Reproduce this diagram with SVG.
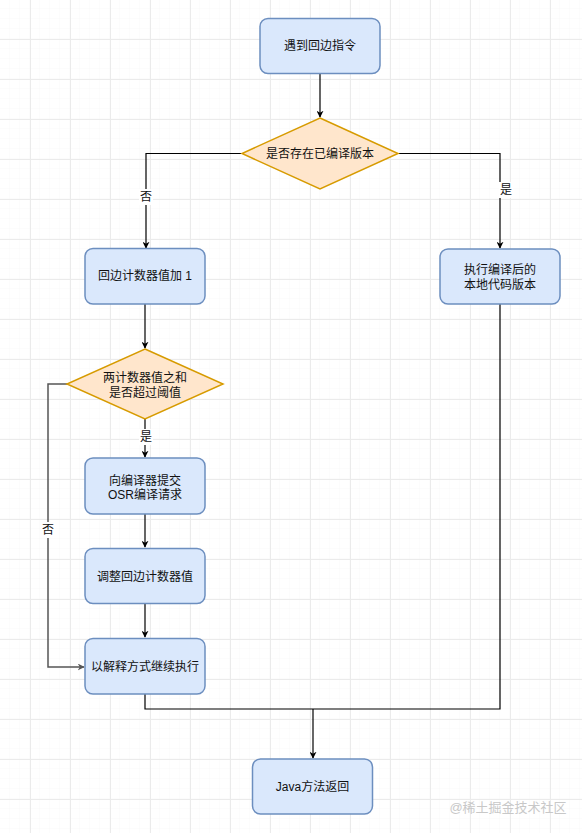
<svg xmlns="http://www.w3.org/2000/svg" width="582" height="833" viewBox="0 0 582 833">
<defs>
<pattern id="minor" x="0" y="9" width="10" height="10" patternUnits="userSpaceOnUse">
<path d="M10 0V10M0 10H10" fill="none" stroke="#f8f8f8" stroke-width="1"/>
</pattern>
<pattern id="major" x="30" y="39" width="40" height="40" patternUnits="userSpaceOnUse">
<path d="M0.5 0V40M0 0.5H40" fill="none" stroke="#ebebeb" stroke-width="1"/>
</pattern>
<marker id="arr" viewBox="0 0 10 10" refX="9" refY="5" markerWidth="7" markerHeight="7" markerUnits="userSpaceOnUse" orient="auto">
<path d="M0 0L10 5L0 10L3 5Z" fill="#000"/>
</marker>
<marker id="arrg" viewBox="0 0 10 10" refX="9" refY="5" markerWidth="7" markerHeight="7" markerUnits="userSpaceOnUse" orient="auto">
<path d="M0 0L10 5L0 10L3 5Z" fill="#555"/>
</marker>
</defs>
<style>
.box{fill:#dae8fc;stroke:#6c8ebf;stroke-width:1.5}
.dia{fill:#ffe6cc;stroke:#d79b00;stroke-width:1.5}
.t{font-family:"Liberation Sans","Noto Sans CJK SC",sans-serif;font-size:12px;fill:#111;text-anchor:middle;dominant-baseline:central}
.e{fill:none;stroke:#000;stroke-width:1.2}
.lb{fill:#fff}
</style>
<rect width="582" height="833" fill="#fff"/>
<rect width="582" height="833" fill="url(#minor)"/>
<rect width="582" height="833" fill="url(#major)"/>
<g id="connectors">
<path class="e" d="M320 73V117" marker-end="url(#arr)"/>
<path class="e" d="M242 153.5H146V248" marker-end="url(#arr)"/>
<path class="e" d="M398 153.5H500V248" marker-end="url(#arr)"/>
<path class="e" d="M145 304V348" marker-end="url(#arr)"/>
<path class="e" d="M145 419V457" marker-end="url(#arr)"/>
<path class="e" d="M145 514V547" marker-end="url(#arr)"/>
<path class="e" d="M145 603V637" marker-end="url(#arr)"/>
<path fill="none" stroke="#555" stroke-width="1.5" d="M67 384H48V667H84" marker-end="url(#arrg)"/>
<path class="e" d="M145 694V709H500V304"/>
<path class="e" d="M313 709V758" marker-end="url(#arr)"/>
<rect class="lb" x="139" y="189" width="14" height="16"/>
<text class="t" x="146" y="197">否</text>
<rect class="lb" x="499" y="182" width="14" height="16"/>
<text class="t" x="506" y="190">是</text>
<rect class="lb" x="139" y="429" width="14" height="16"/>
<text class="t" x="146" y="437">是</text>
<rect class="lb" x="41" y="522" width="14" height="16"/>
<text class="t" x="48" y="530">否</text>
</g>
<g id="n1">
<rect class="box" x="260" y="18.5" width="120" height="55" rx="8"/>
<text class="t" x="320" y="46">遇到回边指令</text>
</g>
<g id="d1">
<polygon class="dia" points="320,118 398,153.5 320,189 242,153.5"/>
<text class="t" x="320" y="154">是否存在已编译版本</text>
</g>
<g id="n2">
<rect class="box" x="85" y="248.5" width="120" height="55.5" rx="8"/>
<text class="t" x="145" y="276">回边计数器值加 1</text>
</g>
<g id="n3">
<rect class="box" x="440" y="249" width="120" height="55" rx="8"/>
<text class="t" x="500" y="270">执行编译后的</text>
<text class="t" x="500" y="285">本地代码版本</text>
</g>
<g id="d2">
<polygon class="dia" points="145,349 223,384 145,419 67,384"/>
<text class="t" x="145" y="377.5">两计数器值之和</text>
<text class="t" x="145" y="392.5">是否超过阈值</text>
</g>
<g id="n4">
<rect class="box" x="85" y="458" width="120" height="56" rx="8"/>
<text class="t" x="145" y="480.5">向编译器提交</text>
<text class="t" x="145" y="495">OSR编译请求</text>
</g>
<g id="n5">
<rect class="box" x="85" y="548.5" width="120" height="55" rx="8"/>
<text class="t" x="145" y="577">调整回边计数器值</text>
</g>
<g id="n6">
<rect class="box" x="85" y="638.5" width="120" height="55.5" rx="8"/>
<text class="t" x="145" y="667">以解释方式继续执行</text>
</g>
<g id="n7">
<rect class="box" x="252.5" y="759" width="120" height="55" rx="8"/>
<text class="t" x="312.5" y="787">Java方法返回</text>
</g>
<text x="508" y="807" font-family="'Liberation Sans','Noto Sans CJK SC',sans-serif" font-size="13" fill="#c8c8c8" text-anchor="middle" dominant-baseline="central">@稀土掘金技术社区</text>
</svg>
